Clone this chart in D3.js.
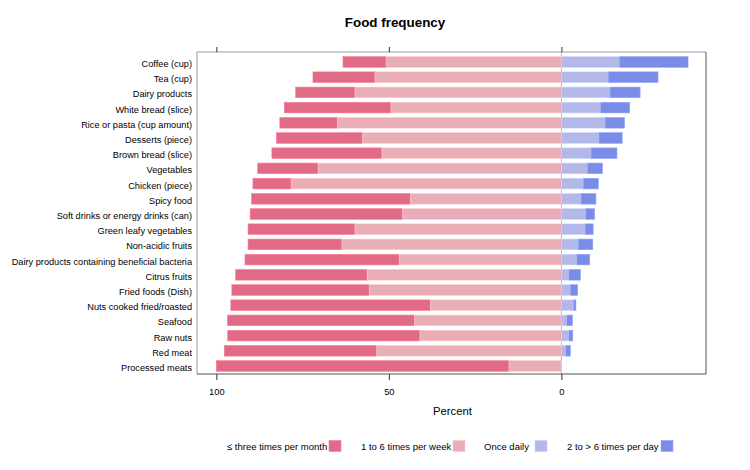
<!DOCTYPE html>
<html>
<head>
<meta charset="utf-8">
<script src="https://cdn.jsdelivr.net/npm/d3@7"></script>
<style>
  body { margin: 0; background: #fff; }
  text { font-family: "Liberation Sans", Arial, sans-serif; }
</style>
</head>
<body>
<svg id="chart" width="750" height="470"></svg>
<script>
const categories = [
  "Coffee (cup)", "Tea (cup)", "Dairy products", "White bread (slice)",
  "Rice or pasta (cup amount)", "Desserts (piece)", "Brown bread (slice)",
  "Vegetables", "Chicken (piece)", "Spicy food", "Soft drinks or energy drinks (can)",
  "Green leafy vegetables", "Non-acidic fruits", "Dairy products containing beneficial bacteria",
  "Citrus fruits", "Fried foods (Dish)", "Nuts cooked fried/roasted", "Seafood",
  "Raw nuts", "Red meat", "Processed meats"
];
// ≤ three times per month
const monthly = [12.5, 18.0, 17.2, 30.9, 16.7, 25.0, 31.9, 17.5, 11.1, 46.0, 44.2,
                 31.0, 27.2, 44.7, 38.1, 39.8, 57.8, 54.2, 55.7, 44.2, 84.8];
// 1 to 6 times per week
const weekly = [50.8, 54.0, 59.8, 49.4, 64.9, 57.6, 52.0, 70.5, 78.3, 43.8, 46.0,
                59.8, 63.6, 47.0, 56.3, 55.7, 38.0, 42.6, 41.0, 53.5, 15.2];
// Once daily
const daily = [16.9, 13.6, 14.1, 11.4, 12.7, 10.9, 8.6, 7.6, 6.4, 5.7, 7.1,
               6.9, 4.9, 4.5, 2.2, 2.7, 3.6, 1.6, 2.2, 1.3, 0];
// 2 to > 6 times per day
const multiDaily = [19.8, 14.4, 8.7, 8.4, 5.6, 6.7, 7.5, 4.3, 4.3, 4.3, 2.5,
                    2.3, 4.2, 3.7, 3.3, 2.0, 0.6, 1.6, 1.1, 1.3, 0];
const seriesNames = ["≤ three times per month", "1 to 6 times per week", "Once daily", "2 to > 6 times per day"];
const colors = ["#E16A87", "#E8ADB6", "#B3B8E8", "#7A8DE6"];
const tickValues = [100, 50, 0];

const svg = d3.select("#chart");
const L = 197, R = 706, T = 52, B = 374;

const x = d3.scaleLinear().domain([105.6, -41.9]).range([L, R]);
const y = d3.scaleBand().domain(categories).range([54.4, 373.6]).paddingInner(0.3).paddingOuter(0.15);

// Title
svg.append("text").attr("x", 395).attr("y", 26.5).attr("text-anchor", "middle")
  .attr("font-size", 13.4).attr("font-weight", "bold").attr("fill", "#000").text("Food frequency");

// zero line
svg.append("line").attr("x1", x(0)).attr("x2", x(0)).attr("y1", T).attr("y2", B)
  .attr("stroke", "#bbb").attr("stroke-width", 1);

// bars
const rows = categories.map((c, i) => ({ c, m: monthly[i], w: weekly[i], d: daily[i], md: multiDaily[i] }));
const segs = [];
rows.forEach(r => {
  segs.push({ c: r.c, x0: r.w, x1: r.w + r.m, k: 0 });
  segs.push({ c: r.c, x0: 0, x1: r.w, k: 1 });
  segs.push({ c: r.c, x0: 0, x1: -r.d, k: 2 });
  segs.push({ c: r.c, x0: -r.d, x1: -r.d - r.md, k: 3 });
});
svg.append("g").selectAll("rect").data(segs.filter(s => Math.abs(s.x1 - s.x0) > 0)).join("rect")
  .attr("x", s => Math.min(x(s.x0), x(s.x1)))
  .attr("width", s => Math.abs(x(s.x1) - x(s.x0)))
  .attr("y", s => y(s.c))
  .attr("height", y.bandwidth())
  .attr("fill", s => colors[s.k])
  .attr("stroke", s => d3.color(colors[s.k]).brighter(0.4))
  .attr("stroke-width", 0.6);

// box
svg.append("line").attr("x1", L).attr("x2", R).attr("y1", T).attr("y2", T).attr("stroke", "#999");
svg.append("line").attr("x1", L).attr("x2", L).attr("y1", T).attr("y2", B).attr("stroke", "#999");
svg.append("line").attr("x1", R).attr("x2", R).attr("y1", T).attr("y2", B).attr("stroke", "#555");
svg.append("line").attr("x1", L).attr("x2", R).attr("y1", B).attr("y2", B).attr("stroke", "#555");

// axes
const bottomAxis = d3.axisBottom(x).tickValues(tickValues).tickSize(6).tickPadding(8).tickFormat(d3.format("d"));
const gb = svg.append("g").attr("transform", `translate(0,${B})`).call(bottomAxis);
gb.select(".domain").remove();
gb.selectAll("line").attr("stroke", "#333");
gb.selectAll("text").attr("font-size", 9.3).attr("fill", "#000").attr("font-family", "Liberation Sans, Arial, sans-serif");

const topAxis = d3.axisTop(x).tickValues(tickValues).tickSize(5).tickFormat("");
const gt = svg.append("g").attr("transform", `translate(0,${T})`).call(topAxis);
gt.select(".domain").remove();
gt.selectAll("line").attr("stroke", "#333");

const leftAxis = d3.axisLeft(y).tickSize(0).tickPadding(5);
const gl = svg.append("g").attr("transform", `translate(${L},0)`).call(leftAxis);
gl.select(".domain").remove();
gl.selectAll("text").attr("font-size", 9.2).attr("fill", "#000").attr("dy", "0.55em")
  .attr("font-family", "Liberation Sans, Arial, sans-serif");

// x label
svg.append("text").attr("x", 452.5).attr("y", 414.5).attr("text-anchor", "middle")
  .attr("font-size", 11.3).attr("fill", "#000").text("Percent");

// legend
const legendPos = [
  { tx: 227, sx: 329 },
  { tx: 361, sx: 453 },
  { tx: 484, sx: 535 },
  { tx: 567, sx: 661 }
];
const lg = svg.append("g");
seriesNames.forEach((n, i) => {
  lg.append("text").attr("x", legendPos[i].tx).attr("y", 449.5).attr("font-size", 9.5).attr("fill", "#000").text(n);
  lg.append("rect").attr("x", legendPos[i].sx).attr("y", 440.5).attr("width", 12).attr("height", 11)
    .attr("fill", colors[i]).attr("stroke", d3.color(colors[i]).brighter(0.4)).attr("stroke-width", 0.6);
});
</script>
</body>
</html>
